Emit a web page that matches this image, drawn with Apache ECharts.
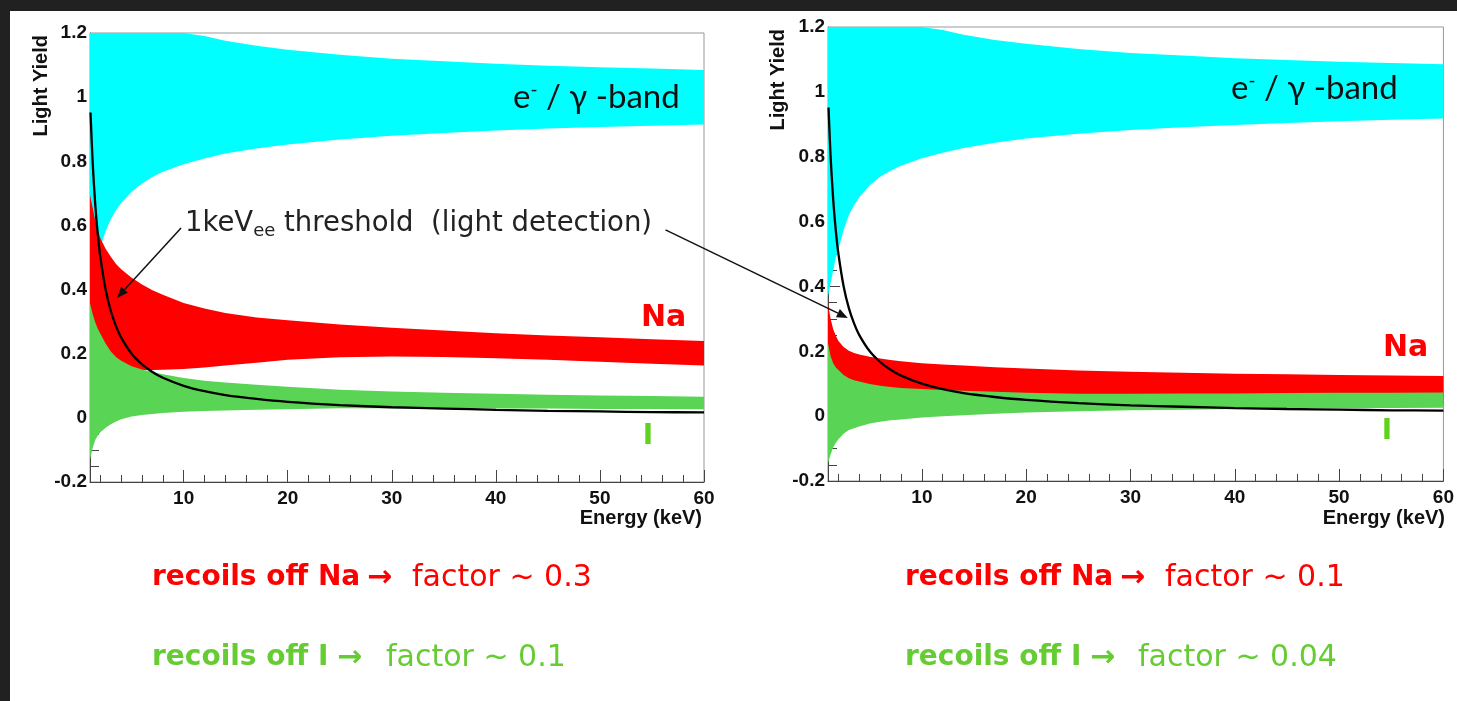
<!DOCTYPE html>
<html>
<head>
<meta charset="utf-8">
<script src="https://cdn.jsdelivr.net/npm/echarts@6/dist/echarts.min.js"></script>
<style>
  html, body { margin: 0; padding: 0; background: #ffffff; }
  #chart { width: 1457px; height: 701px; }
</style>
</head>
<body>
<div id="chart"></div>
<script>
// ---------------- data ----------------
const energy = [1, 1.25, 1.5, 1.75, 2, 2.5, 3, 3.5, 4, 5, 6, 7, 8, 10, 12, 14, 17, 20, 25, 30, 35, 40, 45, 50, 55, 60];

// left panel (Na factor ~0.3, I factor ~0.1)
const leftGammaLow  = [0.34, 0.41, 0.461, 0.501, 0.533, 0.583, 0.619, 0.647, 0.67, 0.705, 0.731, 0.751, 0.767, 0.791, 0.809, 0.824, 0.84, 0.852, 0.868, 0.88, 0.888, 0.896, 0.902, 0.907, 0.911, 0.915];
const leftGammaHigh = [1.2, 1.2, 1.2, 1.2, 1.2, 1.2, 1.2, 1.2, 1.2, 1.2, 1.2, 1.2, 1.2, 1.2, 1.191, 1.176, 1.16, 1.148, 1.132, 1.12, 1.112, 1.104, 1.098, 1.093, 1.089, 1.085];
const leftNaLow     = [0.0, 0.03, 0.06, 0.08, 0.1, 0.12, 0.13, 0.138, 0.144, 0.148, 0.149, 0.149, 0.15, 0.152, 0.157, 0.163, 0.172, 0.181, 0.189, 0.191, 0.19, 0.186, 0.181, 0.175, 0.169, 0.163];
const leftNaHigh    = [0.695, 0.655, 0.615, 0.585, 0.56, 0.527, 0.502, 0.48, 0.463, 0.437, 0.416, 0.398, 0.384, 0.358, 0.341, 0.327, 0.313, 0.304, 0.291, 0.281, 0.272, 0.264, 0.257, 0.251, 0.245, 0.24];
const leftILow      = [-0.131, -0.095, -0.069, -0.055, -0.045, -0.031, -0.02, -0.011, -0.004, 0.004, 0.009, 0.012, 0.015, 0.019, 0.021, 0.023, 0.025, 0.027, 0.03, 0.03, 0.03, 0.029, 0.029, 0.028, 0.028, 0.027];
const leftIHigh     = [0.357, 0.325, 0.298, 0.278, 0.262, 0.232, 0.207, 0.19, 0.178, 0.161, 0.151, 0.143, 0.136, 0.124, 0.116, 0.11, 0.103, 0.097, 0.088, 0.082, 0.078, 0.075, 0.072, 0.07, 0.068, 0.066];

// right panel (Na factor ~0.1, I factor ~0.04)
const rightGammaLow  = [0.37, 0.41, 0.45, 0.49, 0.515, 0.575, 0.62, 0.65, 0.675, 0.712, 0.738, 0.757, 0.772, 0.795, 0.812, 0.827, 0.843, 0.856, 0.871, 0.882, 0.891, 0.898, 0.904, 0.909, 0.914, 0.918];
const rightGammaHigh = [1.2, 1.2, 1.2, 1.2, 1.2, 1.2, 1.2, 1.2, 1.2, 1.2, 1.2, 1.2, 1.2, 1.2, 1.191, 1.176, 1.16, 1.148, 1.132, 1.12, 1.112, 1.104, 1.098, 1.093, 1.089, 1.085];
const rightNaLow     = [0.1, 0.09, 0.08, 0.075, 0.07, 0.065, 0.06, 0.058, 0.056, 0.054, 0.052, 0.05, 0.048, 0.046, 0.044, 0.043, 0.042, 0.04, 0.039, 0.038, 0.037, 0.036, 0.035, 0.035, 0.034, 0.034];
const rightNaHigh    = [0.345, 0.3, 0.268, 0.248, 0.232, 0.213, 0.202, 0.195, 0.19, 0.183, 0.178, 0.173, 0.169, 0.163, 0.159, 0.156, 0.151, 0.147, 0.141, 0.137, 0.134, 0.131, 0.129, 0.127, 0.125, 0.124];
const rightILow      = [-0.145, -0.118, -0.097, -0.082, -0.071, -0.054, -0.043, -0.037, -0.032, -0.023, -0.017, -0.013, -0.01, -0.004, 0.0, 0.003, 0.007, 0.011, 0.015, 0.018, 0.02, 0.022, 0.023, 0.024, 0.025, 0.026];
const rightIHigh     = [0.225, 0.185, 0.163, 0.15, 0.142, 0.127, 0.117, 0.111, 0.107, 0.099, 0.094, 0.09, 0.087, 0.084, 0.081, 0.078, 0.075, 0.072, 0.069, 0.069, 0.07, 0.07, 0.071, 0.072, 0.072, 0.073];

// 1 keVee threshold curve (same in both panels)
const thresholdE  = [1.05, 1.25, 1.5, 1.75, 2, 2.5, 3, 3.5, 4, 5, 6, 7, 8, 10, 12, 14, 17, 20, 25, 30, 35, 40, 45, 50, 55, 60];
const thresholdLY = [0.952, 0.8, 0.667, 0.571, 0.5, 0.4, 0.333, 0.286, 0.25, 0.2, 0.167, 0.143, 0.125, 0.1, 0.083, 0.071, 0.059, 0.05, 0.04, 0.033, 0.029, 0.025, 0.022, 0.02, 0.018, 0.017];

// axis ticks / labels
const xMajorTicks = [10, 20, 30, 40, 50, 60];
const xMinorTicks = [2, 4, 6, 8, 12, 14, 16, 18, 22, 24, 26, 28, 32, 34, 36, 38, 42, 44, 46, 48, 52, 54, 56, 58];

// ---------------- chart ----------------
const COLORS = { gamma: '#00ffff', na: '#ff0000', iod: '#59d454' };
const chart = echarts.init(document.getElementById('chart'), null, { renderer: 'canvas' });

// a filled band between two curves, drawn as one polygon through the axes' scales
function band(idx, low, high, color) {
  return {
    type: 'custom', xAxisIndex: idx * 2, yAxisIndex: idx, silent: true, clip: true,
    data: energy.map((e, i) => [e, low[i], high[i]]),
    encode: { x: 0, y: [1, 2] },
    renderItem: function (params, api) {
      if (params.dataIndex !== 0) return null;
      const pts = [];
      for (let i = 0; i < energy.length; i++) pts.push(api.coord([energy[i], high[i]]));
      for (let i = energy.length - 1; i >= 0; i--) pts.push(api.coord([energy[i], low[i]]));
      return { type: 'polygon', shape: { points: pts }, style: { fill: color, stroke: null } };
    }
  };
}

function threshold(idx) {
  return {
    type: 'line', xAxisIndex: idx * 2, yAxisIndex: idx, showSymbol: false, symbol: 'none',
    smooth: 0.3, clip: true, silent: true,
    lineStyle: { color: '#000', width: 2.3 },
    data: thresholdE.map((e, i) => [e, thresholdLY[i]])
  };
}

const tickFont = { fontFamily: 'Liberation Sans', fontWeight: 'bold', fontSize: 19, color: '#111' };

function xAxes(gridIndex) {
  return [
    { type: 'value', gridIndex, min: 1, max: 60, position: 'bottom',
      splitLine: { show: false },
      axisLine: { show: true, onZero: false, lineStyle: { color: '#444', width: 1 } },
      axisTick: { show: true, inside: true, length: 12, customValues: xMajorTicks, lineStyle: { color: '#444' } },
      axisLabel: Object.assign({ customValues: xMajorTicks, margin: 7 }, tickFont) },
    { type: 'value', gridIndex, min: 1, max: 60, position: 'bottom',
      splitLine: { show: false },
      axisLine: { show: false, onZero: false },
      axisTick: { show: true, inside: true, length: 7, customValues: xMinorTicks, lineStyle: { color: '#444' } },
      axisLabel: { show: false } }
  ];
}

function yAxis(gridIndex) {
  return { type: 'value', gridIndex, min: -0.2, max: 1.2, interval: 0.2,
    splitLine: { show: false },
    axisLine: { show: true, onZero: false, lineStyle: { color: '#444', width: 1 } },
    axisTick: { show: true, inside: true, length: 12, lineStyle: { color: '#444' } },
    minorTick: { show: true, splitNumber: 4, length: 9, lineStyle: { color: '#444' } },
    axisLabel: Object.assign({ margin: 3 }, tickFont) };
}

const series = [
  band(0, leftGammaLow, leftGammaHigh, COLORS.gamma),
  band(0, leftNaLow, leftNaHigh, COLORS.na),
  band(0, leftILow, leftIHigh, COLORS.iod),
  threshold(0),
  band(1, rightGammaLow, rightGammaHigh, COLORS.gamma),
  band(1, rightNaLow, rightNaHigh, COLORS.na),
  band(1, rightILow, rightIHigh, COLORS.iod),
  threshold(1)
];

const axisTitleFont = 'bold 20px "Liberation Sans"';
const ctFont = '"DejaVu Sans", sans-serif';

function txt(x, y, text, font, fill, align, extra) {
  return Object.assign({ type: 'text', x, y, z: 50, silent: true,
    style: { text, font, fill, align: align || 'left', verticalAlign: 'middle',
             textAlign: align || 'left', textVerticalAlign: 'middle' } }, extra || {});
}

function richTxt(x, y, text, rich, fill) {
  return { type: 'text', x, y, z: 50, silent: true,
    style: { text, rich, fill, align: 'left', verticalAlign: 'middle',
             textAlign: 'left', textVerticalAlign: 'middle' } };
}

const bandRich = {
  t: { fontFamily: 'Lato', fontSize: 33, fill: '#111' },
  s: { fontFamily: 'Lato', fontSize: 19, fill: '#111', verticalAlign: 'top', padding: [0, 0, 15, 0] }
};
const thrRich = {
  t: { fontFamily: ctFont, fontSize: 27.5, fill: '#222', lineHeight: 32 },
  s: { fontFamily: ctFont, fontSize: 18, fill: '#222', lineHeight: 32, verticalAlign: 'bottom', padding: [10, 0, 0, 0] }
};

const RED = '#ff0000', GREEN = '#66cc33';
const boldF = 'bold 28px ' + ctFont;
const normF = '30px ' + ctFont;
const arrowF = 'bold 30px ' + ctFont;

const graphics = [
  { type: 'rect', z: 100, silent: true, shape: { x: 0, y: 0, width: 1457, height: 11 }, style: { fill: '#212121' } },
  { type: 'rect', z: 100, silent: true, shape: { x: 0, y: 0, width: 10, height: 701 }, style: { fill: '#212121' } },
  txt(41, 35, 'Light Yield', axisTitleFont, '#111', 'right', { rotation: Math.PI / 2 }),
  txt(778, 29, 'Light Yield', axisTitleFont, '#111', 'right', { rotation: Math.PI / 2 }),
  txt(702, 518, 'Energy (keV)', axisTitleFont, '#111', 'right'),
  txt(1445, 518, 'Energy (keV)', axisTitleFont, '#111', 'right'),
  richTxt(513, 97, '{t|e}{s|-}{t| / γ -band}', bandRich, '#111'),
  richTxt(1231, 88, '{t|e}{s|-}{t| / γ -band}', bandRich, '#111'),
  txt(641, 318, 'Na', 'bold 30px ' + ctFont, RED),
  txt(1383, 348, 'Na', 'bold 30px ' + ctFont, RED),
  txt(648, 437, 'I', 'bold 28px ' + ctFont, '#5fd21e', 'center'),
  txt(1387, 432, 'I', 'bold 28px ' + ctFont, '#5fd21e', 'center'),
  richTxt(185, 224, '{t|1keV}{s|ee}{t| threshold  (light detection)}', thrRich, '#222'),
  // bottom notes
  txt(152, 578, 'recoils off Na', boldF, RED), txt(367, 578, '→', arrowF, RED), txt(412, 578, 'factor ~ 0.3', normF, RED),
  txt(152, 658, 'recoils off I', boldF, GREEN), txt(337, 658, '→', arrowF, GREEN), txt(386, 658, 'factor ~ 0.1', normF, GREEN),
  txt(905, 578, 'recoils off Na', boldF, RED), txt(1120, 578, '→', arrowF, RED), txt(1165, 578, 'factor ~ 0.1', normF, RED),
  txt(905, 658, 'recoils off I', boldF, GREEN), txt(1090, 658, '→', arrowF, GREEN), txt(1138, 658, 'factor ~ 0.04', normF, GREEN)
];

chart.setOption({
  animation: false,
  backgroundColor: '#ffffff',
  grid: [
    { left: 90, top: 33, width: 614, height: 449, show: true, borderColor: '#999', borderWidth: 1, backgroundColor: 'transparent' },
    { left: 828, top: 27, width: 622, height: 454, show: true, borderColor: '#999', borderWidth: 1, backgroundColor: 'transparent' }
  ],
  xAxis: [].concat(xAxes(0), xAxes(1)),
  yAxis: [yAxis(0), yAxis(1)],
  series,
  graphic: graphics
});

// arrows, anchored to data coordinates of the panels
function arrow(from, to) {
  const [x1, y1] = from, [x2, y2] = to;
  const ang = Math.atan2(y2 - y1, x2 - x1);
  const L = 11, W = 4.5;
  const bx = x2 - L * Math.cos(ang), by = y2 - L * Math.sin(ang);
  const px = -Math.sin(ang) * W, py = Math.cos(ang) * W;
  return [
    { type: 'line', z: 60, silent: true, shape: { x1, y1, x2: bx, y2: by }, style: { stroke: '#111', lineWidth: 1.5 } },
    { type: 'polygon', z: 60, silent: true, shape: { points: [[x2, y2], [bx + px, by + py], [bx - px, by - py]] }, style: { fill: '#111' } }
  ];
}
const pL0 = chart.convertToPixel({ gridIndex: 0 }, [9.75, 0.592]);
const pL1 = chart.convertToPixel({ gridIndex: 0 }, [3.6, 0.374]);
const pR0 = chart.convertToPixel({ gridIndex: 0 }, [56.3, 0.586]);
const pR1 = chart.convertToPixel({ gridIndex: 1 }, [2.9, 0.303]);
chart.setOption({ graphic: graphics.concat(arrow(pL0, pL1), arrow(pR0, pR1)) });
</script>
</body>
</html>
